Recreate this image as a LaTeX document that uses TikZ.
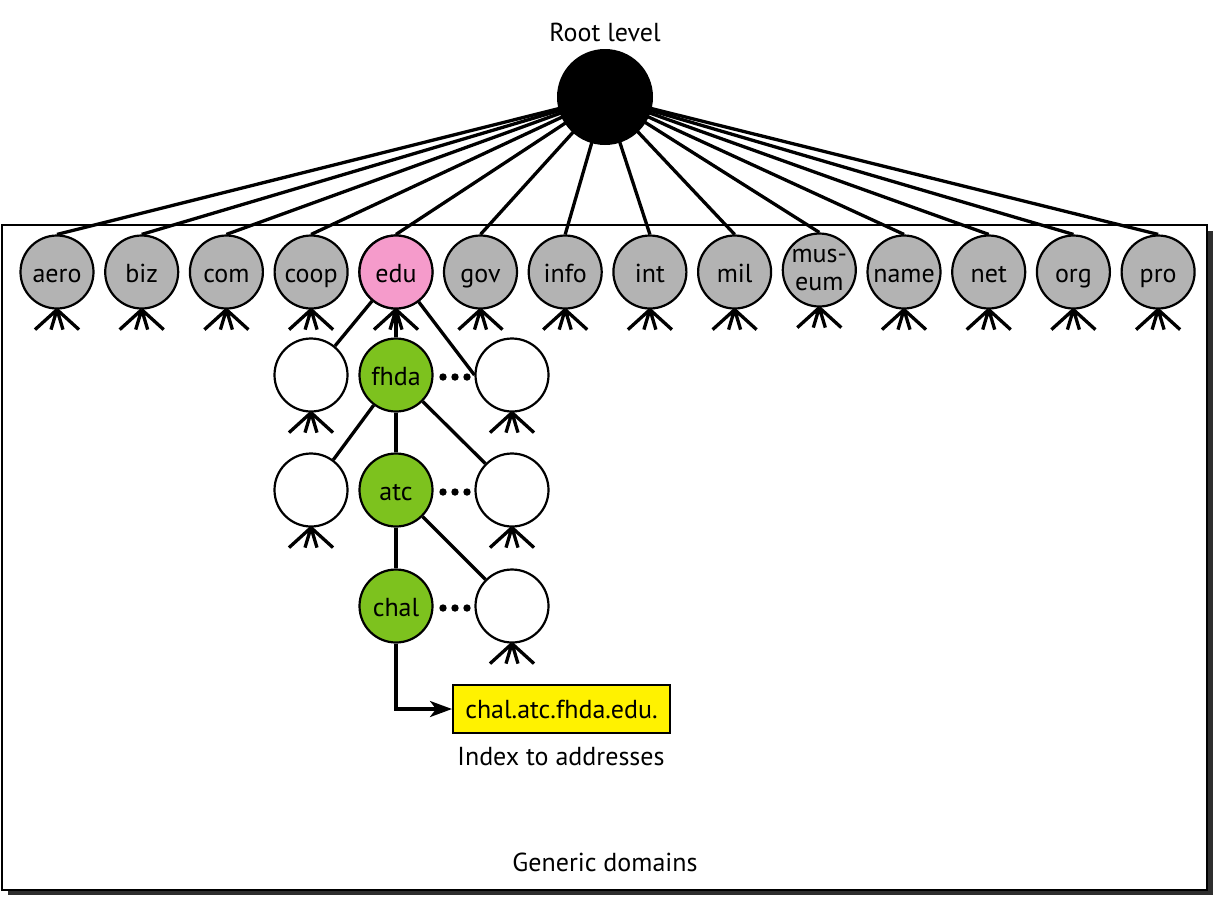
\documentclass[tikz,border=0pt]{standalone}
\usepackage{fontspec}
\setmainfont{PT Sans}
\usetikzlibrary{arrows.meta}
\pgfdeclarelayer{bg}
\pgfdeclarelayer{edges}
\pgfsetlayers{bg,edges,main}
\definecolor{dgray}{HTML}{B3B3B3}
\definecolor{dpink}{HTML}{F59BCB}
\definecolor{dgreen}{HTML}{7DC21E}
\definecolor{shadowc}{HTML}{2E2E2E}
\tikzset{
  dom/.style={circle, draw=black, line width=2.2pt, minimum size=73pt, inner sep=0pt,
    text height=21pt, text depth=1pt, font=\fontsize{26}{28}\selectfont},
  tld/.style={dom, fill=dgray},
  sub/.style={dom, fill=white},
  pathdom/.style={dom, fill=dgreen},
  link/.style={line width=3.3pt},
  forkline/.style={line width=3.3pt},
  lbl/.style={font=\fontsize{26}{28}\selectfont, inner sep=0pt},
  dot/.style={fill=black, draw=none},
}
\newcommand\domfork[1]{%
  \draw[forkline] (#1.south) -- ++(-22,20) (#1.south) -- ++(-6,20)
                  (#1.south) -- ++(6,20) (#1.south) -- ++(22,20);}
\newcommand\dotrow[1]{%
  \fill[dot] (443,#1) circle (3.7) (455,#1) circle (3.7) (467,#1) circle (3.7);}
\begin{document}
\begin{tikzpicture}[x=1pt,y=-1pt]
\useasboundingbox (0,0) rectangle (1222,906);
% frame
\begin{pgfonlayer}{bg}
  \fill[shadowc] (8,231) rectangle (1213,895);
  \draw[line width=2.2pt, fill=white] (2,225) rectangle (1207,890);
\end{pgfonlayer}
% root
\node[circle, fill=black, minimum size=96pt, inner sep=0pt] (root) at (605,97) {};
\node[lbl] (rootlbl) at (605,32) {Root level};
% top-level domains
\foreach \n/\t [count=\i from 0] in {aero/aero,biz/biz,com/com,coop/coop,edu/edu,gov/gov,info/info,int/int,mil/mil,name/name,net/net,org/org,pro/pro}{
  \ifnum\i>8 \pgfmathtruncatemacro\k{\i+1}\else\let\k\i\fi
  \node[tld] (\n) at ({57+84.7*\k},272) {\t};
}
\node[tld, align=center, text height=, text depth=, yshift=2pt] (museum) at ({57+84.7*9},272) {mus-\\eum};
\node[dom, fill=dpink] (edu) at (396,272) {edu};
\foreach \n in {aero,biz,com,coop,edu,gov,info,int,mil,museum,name,net,org,pro}{
  \begin{pgfonlayer}{edges}
    \draw[link] (root.center) -- (\n.north);
  \end{pgfonlayer}
  \domfork{\n}
}
% second level
\node[sub] (l2) at (311,375) {};
\node[pathdom] (fhda) at (396,375) {fhda};
\node[sub] (r2) at (512,375) {};
% third level
\node[sub] (l3) at (311,490) {};
\node[pathdom] (atc) at (396,490) {atc};
\node[sub] (r3) at (512,490) {};
% fourth level
\node[pathdom] (chal) at (396,606) {chal};
\node[sub] (r4) at (512,606) {};
\foreach \n in {l2,r2,l3,r3,r4}{\domfork{\n}}
% tree edges
\draw[link] (edu) -- (l2);
\draw[link] (edu) -- (fhda);
\draw[link] (edu) -- (r2.west);
\draw[link] (fhda) -- (l3);
\draw[link] (fhda) -- (atc);
\draw[link] (fhda) -- (r3);
\draw[link] (atc) -- (chal);
\draw[link] (atc) -- (r4);
\dotrow{377}
\dotrow{492}
\dotrow{608}
% address box
\node[draw=black, line width=2pt, fill=yellow, minimum width=217pt, minimum height=48pt,
  font=\fontsize{26}{26}\selectfont] (addr) at (561.5,709) {chal.atc.fhda.edu.};
\draw[link, -{Stealth[length=22pt,width=16pt,inset=6pt]}] (chal.south) |- (addr.west);
\node[lbl] (idx) at (561,757) {Index to addresses};
\node[lbl] (gen) at (605,862) {Generic domains};
\end{tikzpicture}
\end{document}
